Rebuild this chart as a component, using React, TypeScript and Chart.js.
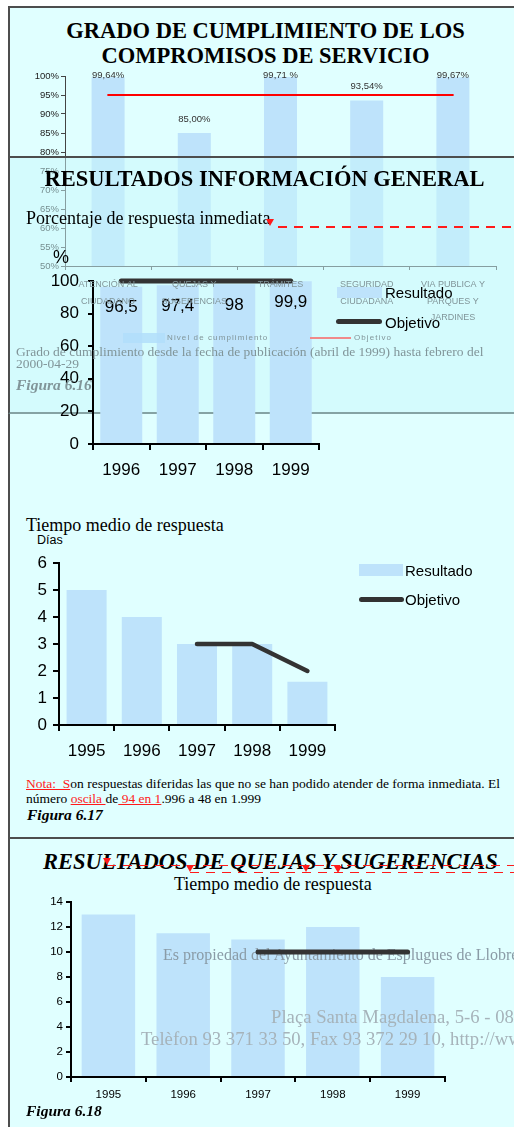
import React, { useEffect, useRef } from 'react';
import { Chart, registerables } from 'chart.js';

Chart.register(...registerables);

// ---------- DATA ----------
const complianceCategories = [
  ['ATENCIÓN AL', 'CIUDADANO'],
  ['QUEJAS Y', 'SUGERENCIAS'],
  ['TRÁMITES'],
  ['SEGURIDAD', 'CIUDADANA'],
  ['VIA PUBLICA Y', 'PARQUES Y', 'JARDINES'],
];
const complianceValues = [99.64, 85.0, 99.71, 93.54, 99.67];
const complianceLabels = ['99,64%', '85,00%', '99,71 %', '93,54%', '99,67%'];
const complianceTarget = [95, 95, 95, 95, 95];
const complianceTicks = [50, 55, 60, 65, 70, 75, 80, 85, 90, 95, 100];

const immediateYears = ['1996', '1997', '1998', '1999'];
const immediateValues = [96.5, 97.4, 98, 99.9];
const immediateLabels = ['96,5', '97,4', '98', '99,9'];
const immediateTarget = [100, 100, 100, 100];
const immediateTicks = [0, 20, 40, 60, 80, 100];

const deferredYears = ['1995', '1996', '1997', '1998', '1999'];
const deferredValues = [5, 4, 3, 3, 1.6];
const deferredTarget = [null, null, 3, 3, 2];
const deferredTicks = [0, 1, 2, 3, 4, 5, 6];

const complaintsYears = ['1995', '1996', '1997', '1998', '1999'];
const complaintsValues = [13, 11.5, 11, 12, 8];
const complaintsTarget = [null, null, 10, 10, 10];
const complaintsTicks = [0, 2, 4, 6, 8, 10, 12, 14];

// ---------- STYLE ----------
const SERIF = '"Liberation Serif", "Times New Roman", serif';
const SANS = '"Liberation Sans", Arial, sans-serif';
const BAR_COLOR = '#BEE3FB';
const PANEL_BG = '#E0FFFF';
const BORDER = '#4d4d4d';
const RED = '#FF1a1a';
const FADED = '#819599';
const CLEAR = 'rgba(0,0,0,0)';

type ComboOpts = {
  labels: any[];
  bars?: number[];
  line?: (number | null)[];
  yTicks: number[];
  yFmt: (v: number) => string;
  padTop: number;
  padRight: number;
  yWidth: number;
  xHeight: number;
  barPct: number;
  yFont: any;
  xFont: any;
  yTickLen: number;
  yPad: number;
  xTickLen: number;
  xPad: number;
  axisColor: string;
  axisWidth: number;
  tickColor: string;
  xTickColor?: string;
  lineColor: string;
  lineWidth: number;
  hideAxes?: boolean;
  plugins?: any[];
};

function comboConfig(o: ComboOpts): any {
  const axisColor = o.hideAxes ? CLEAR : o.axisColor;
  const tickColor = o.hideAxes ? CLEAR : o.tickColor;
  const xTickColor = o.xTickColor || tickColor;
  const datasets: any[] = [];
  if (o.bars) {
    datasets.push({
      type: 'bar',
      data: o.bars,
      backgroundColor: BAR_COLOR,
      borderWidth: 0,
      barPercentage: o.barPct,
      categoryPercentage: 1,
      order: 1,
    });
  }
  if (o.line) {
    datasets.push({
      type: 'line',
      data: o.line,
      borderColor: o.lineColor,
      borderWidth: o.lineWidth,
      pointRadius: 0,
      pointHoverRadius: 0,
      borderCapStyle: 'round',
      borderJoinStyle: 'round',
      fill: false,
      tension: 0,
      order: 0,
      clip: false,
      spanGaps: false,
    });
  }
  return {
    type: 'bar',
    data: { labels: o.labels, datasets },
    options: {
      responsive: false,
      maintainAspectRatio: false,
      animation: false,
      events: [],
      layout: { padding: { top: o.padTop, right: o.padRight, left: 0, bottom: 0 } },
      plugins: {
        legend: { display: false },
        tooltip: { enabled: false },
        title: { display: false },
      },
      scales: {
        x: {
          type: 'category',
          offset: true,
          grid: {
            offset: true,
            drawOnChartArea: false,
            drawTicks: true,
            tickLength: o.xTickLen,
            color: axisColor,
            lineWidth: o.axisWidth,
          },
          border: { display: true, color: axisColor, width: o.axisWidth },
          ticks: {
            font: o.xFont,
            color: xTickColor,
            padding: o.xPad,
            maxRotation: 0,
            minRotation: 0,
            autoSkip: false,
          },
          afterFit: (s: any) => {
            s.height = o.xHeight;
          },
        },
        y: {
          type: 'linear',
          min: o.yTicks[0],
          max: o.yTicks[o.yTicks.length - 1],
          afterBuildTicks: (s: any) => {
            s.ticks = o.yTicks.map((v) => ({ value: v }));
          },
          grid: {
            drawOnChartArea: false,
            drawTicks: true,
            tickLength: o.yTickLen,
            color: axisColor,
            lineWidth: o.axisWidth,
          },
          border: { display: true, color: axisColor, width: o.axisWidth },
          ticks: {
            font: o.yFont,
            color: tickColor,
            padding: o.yPad,
            callback: (v: any) => o.yFmt(Number(v)),
          },
          afterFit: (s: any) => {
            s.width = o.yWidth;
          },
        },
      },
    },
    plugins: o.plugins || [],
  };
}

const complianceLabelPlugin = {
  id: 'complianceLabels',
  afterDatasetsDraw(chart: any) {
    const meta = chart.getDatasetMeta(0);
    const ctx = chart.ctx;
    const top = chart.chartArea.top;
    ctx.save();
    ctx.font = '9.5px "Liberation Sans", Arial, sans-serif';
    ctx.fillStyle = '#333';
    ctx.textAlign = 'center';
    ctx.textBaseline = 'middle';
    meta.data.forEach((el: any, i: number) => {
      ctx.fillText(complianceLabels[i], el.x, Math.max(el.y - 14, top - 1));
    });
    ctx.restore();
  },
};

const immediateLabelPlugin = {
  id: 'immediateLabels',
  afterDatasetsDraw(chart: any) {
    const meta = chart.getDatasetMeta(0);
    const ctx = chart.ctx;
    ctx.save();
    ctx.font = '17px "Liberation Sans", Arial, sans-serif';
    ctx.fillStyle = '#000';
    ctx.textAlign = 'center';
    ctx.textBaseline = 'middle';
    meta.data.forEach((el: any, i: number) => {
      ctx.fillText(immediateLabels[i], el.x, el.y + 21);
    });
    ctx.restore();
  },
};

function ChartCanvas({ top, height, z, make }: { top: number; height: number; z: number; make: () => any }) {
  const ref = useRef<HTMLCanvasElement | null>(null);
  useEffect(() => {
    if (!ref.current) return;
    const chart = new Chart(ref.current, make());
    return () => chart.destroy();
  }, []);
  return (
    <canvas
      ref={ref}
      width={514}
      height={height}
      style={{ position: 'absolute', left: 0, top, width: 514, height, zIndex: z, display: 'block' }}
    />
  );
}

function Txt({ left, cy, size, lh, z, font, color, weight, italic, width, align, spacing, children }: any) {
  return (
    <div
      style={{
        position: 'absolute',
        left,
        top: cy - lh / 2,
        width,
        textAlign: align,
        fontFamily: font,
        fontSize: size,
        lineHeight: `${lh}px`,
        color: color || '#000',
        fontWeight: weight || 'normal',
        fontStyle: italic ? 'italic' : 'normal',
        letterSpacing: spacing,
        whiteSpace: 'pre',
        zIndex: z,
      }}
    >
      {children}
    </div>
  );
}

function Box({ left, top, w, h, bg, z, radius }: any) {
  return (
    <div
      style={{ position: 'absolute', left, top, width: w, height: h, background: bg, zIndex: z, borderRadius: radius }}
    />
  );
}

function Dashed({ left, top, w, z }: any) {
  return (
    <div
      style={{
        position: 'absolute',
        left,
        top,
        width: w,
        height: 1.5,
        zIndex: z,
        background: `repeating-linear-gradient(to right, ${RED} 0px, ${RED} 9px, transparent 9px, transparent 16px)`,
      }}
    />
  );
}

function Tri({ cx, cy, z }: any) {
  return (
    <div
      style={{
        position: 'absolute',
        left: cx - 4,
        top: cy - 4,
        width: 0,
        height: 0,
        borderLeft: '4px solid transparent',
        borderRight: '4px solid transparent',
        borderTop: `7px solid ${RED}`,
        zIndex: z,
      }}
    />
  );
}

const red: React.CSSProperties = { color: RED, textDecoration: 'underline' };

export default function App() {
  const complianceBase = {
    labels: complianceCategories,
    yTicks: complianceTicks,
    yFmt: (v: number) => `${v}%`,
    padTop: 20,
    padRight: 18,
    yWidth: 65,
    xHeight: 70,
    barPct: 0.383,
    yFont: { family: SANS, size: 9.5 },
    xFont: { family: SANS, size: 9, lineHeight: 1.833 },
    yTickLen: 4,
    yPad: 2,
    xTickLen: 4,
    xPad: 6.75,
    axisColor: '#444',
    axisWidth: 1,
    tickColor: '#222',
    lineColor: '#FF0000',
    lineWidth: 2,
  };
  const makeCompliance = () =>
    comboConfig({
      ...complianceBase,
      bars: complianceValues,
      line: complianceTarget,
      xTickColor: CLEAR,
      plugins: [complianceLabelPlugin],
    });
  const makeComplianceCategoryLabels = () =>
    comboConfig({
      ...complianceBase,
      hideAxes: true,
      xTickColor: FADED,
    });

  const makeImmediate = () =>
    comboConfig({
      labels: immediateYears,
      bars: immediateValues,
      line: immediateTarget,
      yTicks: immediateTicks,
      yFmt: (v) => `${v}`,
      padTop: 20,
      padRight: 195,
      yWidth: 93,
      xHeight: 40,
      barPct: 0.743,
      yFont: { family: SANS, size: 17 },
      xFont: { family: SANS, size: 17 },
      yTickLen: 5,
      yPad: 9,
      xTickLen: 6,
      xPad: 9.8,
      axisColor: '#000',
      axisWidth: 2,
      tickColor: '#000',
      lineColor: '#333',
      lineWidth: 5,
      plugins: [immediateLabelPlugin],
    });

  const makeDeferred = () =>
    comboConfig({
      labels: deferredYears,
      bars: deferredValues,
      line: deferredTarget,
      yTicks: deferredTicks,
      yFmt: (v) => `${v}`,
      padTop: 18,
      padRight: 179,
      yWidth: 59,
      xHeight: 40,
      barPct: 0.725,
      yFont: { family: SANS, size: 17 },
      xFont: { family: SANS, size: 17 },
      yTickLen: 6,
      yPad: 6,
      xTickLen: 6,
      xPad: 9.8,
      axisColor: '#000',
      axisWidth: 2,
      tickColor: '#000',
      lineColor: '#333',
      lineWidth: 4.5,
    });

  const complaintsBase = {
    labels: complaintsYears,
    yTicks: complaintsTicks,
    yFmt: (v: number) => `${v}`,
    padTop: 12,
    padRight: 69,
    yWidth: 71,
    xHeight: 30,
    barPct: 0.715,
    yFont: { family: SANS, size: 11.5 },
    xFont: { family: SANS, size: 11.5 },
    yTickLen: 5,
    yPad: 3,
    xTickLen: 5,
    xPad: 6,
    axisColor: '#000',
    axisWidth: 2,
    tickColor: '#000',
    lineColor: '#333',
    lineWidth: 5,
  };
  const makeComplaintsBars = () => comboConfig({ ...complaintsBase, bars: complaintsValues });
  const makeComplaintsLine = () => comboConfig({ ...complaintsBase, line: complaintsTarget, hideAxes: true });

  return (
    <div
      style={{
        position: 'absolute',
        left: 0,
        top: 0,
        width: 514,
        height: 1127,
        overflow: 'hidden',
        background: '#fff',
      }}
    >
      {/* Panel 1 background */}
      <div
        style={{
          position: 'absolute',
          left: 8,
          top: 6,
          width: 540,
          height: 833,
          boxSizing: 'border-box',
          background: PANEL_BG,
          borderTop: `2px solid ${BORDER}`,
          borderLeft: `2px solid ${BORDER}`,
          zIndex: 0,
        }}
      />

      {/* Panel 1 title */}
      <Txt left={15.5} width={500} align="center" cy={30} size={22.5} lh={25} z={1} font={SERIF} weight="bold">
        {'GRADO DE CUMPLIMIENTO DE LOS\nCOMPROMISOS DE SERVICIO'}
      </Txt>

      {/* Chart 1: compliance */}
      <ChartCanvas top={56} height={280} z={1} make={makeCompliance} />

      {/* Panel 2 overlay */}
      <div
        style={{
          position: 'absolute',
          left: 8,
          top: 156,
          width: 540,
          height: 258,
          boxSizing: 'border-box',
          background: 'rgba(200,248,252,0.5)',
          borderTop: `2px solid ${BORDER}`,
          borderLeft: `2px solid ${BORDER}`,
          borderBottom: '2px solid rgba(80,105,105,0.6)',
          zIndex: 2,
        }}
      />
      <Txt left={14.5} width={500} align="center" cy={179} size={22.5} lh={26} z={2} font={SERIF} weight="bold">
        RESULTADOS INFORMACIÓN GENERAL
      </Txt>
      <Txt left={26} cy={218} size={18} lh={22} z={2} font={SERIF}>
        Porcentaje de respuesta inmediata
      </Txt>
      <Dashed left={278} top={226} w={240} z={2} />
      <Tri cx={270} cy={223} z={2} />

      {/* Chart 2: immediate response % */}
      <ChartCanvas top={261} height={223} z={3} make={makeImmediate} />
      <Txt left={53} cy={257} size={18} lh={22} z={3} font={SANS}>
        %
      </Txt>
      <Box left={337} top={287} w={45} h={11} bg={BAR_COLOR} z={3} />
      <Txt left={385} cy={293} size={15} lh={18} z={3} font={SANS}>
        Resultado
      </Txt>
      <Box left={336} top={318.5} w={46} h={5} bg="#333" z={3} radius={3} />
      <Txt left={385} cy={323} size={15} lh={18} z={3} font={SANS}>
        Objetivo
      </Txt>

      {/* Faded chart-1 texts that show through over chart 2 */}
      <ChartCanvas top={56} height={280} z={4} make={makeComplianceCategoryLabels} />
      <Box left={123} top={333} w={42} h={10} bg="rgba(178,222,250,0.85)" z={4} />
      <Txt left={167} cy={338} size={8} lh={10} z={4} font={SANS} color={FADED} spacing="1.1px">
        Nivel de cumplimiento
      </Txt>
      <Box left={310} top={337} w={41} h={2} bg="#F08A8A" z={4} />
      <Txt left={354} cy={338} size={8} lh={10} z={4} font={SANS} color={FADED} spacing="1.1px">
        Objetivo
      </Txt>
      <Txt left={16} cy={352} size={13.5} lh={12} z={4} font={SERIF} color={FADED}>
        {'Grado de cumplimiento desde la fecha de publicación (abril de 1999) hasta febrero del\n2000-04-29'}
      </Txt>
      <Txt left={16} cy={385} size={15.5} lh={18} z={4} font={SERIF} color={FADED} weight="bold" italic>
        Figura 6.16
      </Txt>

      {/* Chart 3: deferred response time */}
      <Txt left={26} cy={525} size={18} lh={22} z={1} font={SERIF}>
        Tiempo medio de respuesta
      </Txt>
      <Txt left={37} cy={540} size={12.5} lh={15} z={1} font={SANS}>
        Días
      </Txt>
      <ChartCanvas top={545} height={220} z={1} make={makeDeferred} />
      <Box left={359} top={564} w={44} h={12} bg={BAR_COLOR} z={1} />
      <Txt left={405} cy={571} size={15} lh={18} z={1} font={SANS}>
        Resultado
      </Txt>
      <Box left={359} top={596.5} w={45} h={5} bg="#333" z={1} radius={3} />
      <Txt left={405} cy={600} size={15} lh={18} z={1} font={SANS}>
        Objetivo
      </Txt>
      <div
        style={{
          position: 'absolute',
          left: 26,
          top: 775.5,
          fontFamily: SERIF,
          fontSize: 13.5,
          lineHeight: '15px',
          whiteSpace: 'pre',
          color: '#000',
          zIndex: 1,
        }}
      >
        <span style={red}>{'Nota:  S'}</span>
        {'on respuestas diferidas las que no se han podido atender de forma inmediata. El\nnúmero '}
        <span style={red}>{'oscila '}</span>
        {'de'}
        <span style={red}>{' 94 en 1'}</span>
        {'.996 a 48 en 1.999'}
      </div>
      <Txt left={27} cy={815} size={15.5} lh={18} z={1} font={SERIF} weight="bold" italic>
        Figura 6.17
      </Txt>

      {/* Panel 3 */}
      <div
        style={{
          position: 'absolute',
          left: 8,
          top: 837,
          width: 540,
          height: 320,
          boxSizing: 'border-box',
          background: PANEL_BG,
          borderTop: `2px solid ${BORDER}`,
          borderLeft: `2px solid ${BORDER}`,
          zIndex: 5,
        }}
      />
      <Txt left={43} cy={862} size={22.5} lh={26} z={6} font={SERIF} weight="bold" italic>
        RESULTADOS DE QUEJAS Y SUGERENCIAS
      </Txt>
      <Dashed left={107} top={864.5} w={420} z={7} />
      <Dashed left={190} top={871.5} w={330} z={7} />
      <Tri cx={107} cy={862} z={7} />
      <Tri cx={190} cy={869} z={7} />
      <Tri cx={306} cy={869} z={7} />
      <Tri cx={338} cy={870} z={7} />
      <Txt left={174} cy={884} size={18} lh={22} z={6} font={SERIF}>
        Tiempo medio de respuesta
      </Txt>

      {/* Chart 4: complaints response time */}
      <ChartCanvas top={890} height={217} z={6} make={makeComplaintsBars} />
      <Txt left={163} cy={955} size={16} lh={20} z={7} font={SERIF} color="#8a9ba6">
        Es propiedad del Ayuntamiento de Esplugues de Llobregat
      </Txt>
      <Txt left={271} cy={1017} size={18.7} lh={22} z={7} font={SERIF} color="#a6b3ba">
        Plaça Santa Magdalena, 5-6 - 08950 Esplugues de Llobregat
      </Txt>
      <Txt left={141} cy={1039} size={18.7} lh={22} z={7} font={SERIF} color="#a6b3ba">
        Telèfon 93 371 33 50, Fax 93 372 29 10, http://www.esplugues.org
      </Txt>
      <ChartCanvas top={890} height={217} z={8} make={makeComplaintsLine} />
      <Txt left={26} cy={1111} size={15.5} lh={18} z={9} font={SERIF} weight="bold" italic>
        Figura 6.18
      </Txt>
    </div>
  );
}
